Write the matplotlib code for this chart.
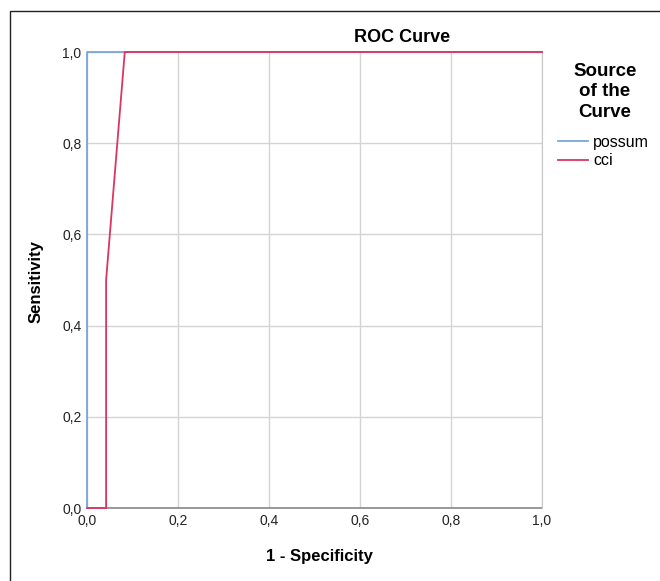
import matplotlib.pyplot as plt
from matplotlib.patches import Rectangle

plt.rcParams['font.family'] = ['Liberation Sans', 'DejaVu Sans']

# ROC points
possum_fpr = [0.0, 0.0, 1.0]
possum_tpr = [0.0, 1.0, 1.0]
cci_fpr = [0.0, 0.042, 0.042, 0.083, 1.0]
cci_tpr = [0.0, 0.0, 0.5, 1.0, 1.0]
ticks = [0.0, 0.2, 0.4, 0.6, 0.8, 1.0]
tick_labels = ['0,0', '0,2', '0,4', '0,6', '0,8', '1,0']

fig = plt.figure(figsize=(6.6, 5.81), dpi=100)
ax = fig.add_axes([87 / 660, 1 - 508 / 581, 455 / 660, 456 / 581])

# frame around the whole chart (only top/left visible in the crop)
fig.patches.append(Rectangle((10 / 660, -0.1), 1.2, 1 - 11 / 581 + 0.1,
                             transform=fig.transFigure, fill=False,
                             edgecolor='#222222', linewidth=1.0))

ax.plot(possum_fpr, possum_tpr, color='#79a6dc', lw=1.3, label='possum',
        zorder=3, clip_on=False)
ax.plot(cci_fpr, cci_tpr, color='#dc3560', lw=1.3, label='cci',
        zorder=4, clip_on=False)

ax.set_xlim(0, 1)
ax.set_ylim(0, 1)
ax.set_xticks(ticks)
ax.set_yticks(ticks)
ax.set_xticklabels(tick_labels, fontsize=10, color='#222222')
ax.set_yticklabels(tick_labels, fontsize=10, color='#222222')
ax.tick_params(length=0, pad=4)
ax.grid(True, color='#d4d4d4', lw=1.0)
ax.set_axisbelow(True)
for s in ['top', 'right', 'left']:
    ax.spines[s].set_color('#c8c8c8')
ax.spines['bottom'].set_color('#888888')
ax.spines['bottom'].set_linewidth(1.2)
ax.spines['bottom'].set_zorder(2)

fig.text(36 / 660, 1 - 282 / 581, 'Sensitivity', rotation=90, ha='center', va='center',
         fontsize=12, fontweight='bold')
fig.text(319 / 660, 1 - 557 / 581, '1 - Specificity', ha='center', va='center',
         fontsize=12, fontweight='bold')
fig.text(402 / 660, 1 - 38 / 581, 'ROC Curve', ha='center', va='center',
         fontsize=13, fontweight='bold')

fig.text(605 / 660, 1 - 92 / 581, 'Source\nof the\nCurve', ha='center', va='center',
         fontsize=13.5, fontweight='bold', linespacing=1.3)
leg = ax.legend(loc='upper left', bbox_to_anchor=(558 / 660, 1 - 135 / 581),
                bbox_transform=fig.transFigure, frameon=False, fontsize=11.5,
                handlelength=1.85, handletextpad=0.35, labelspacing=0.2,
                borderaxespad=0, borderpad=0)

fig.savefig('out.png', dpi=100)
